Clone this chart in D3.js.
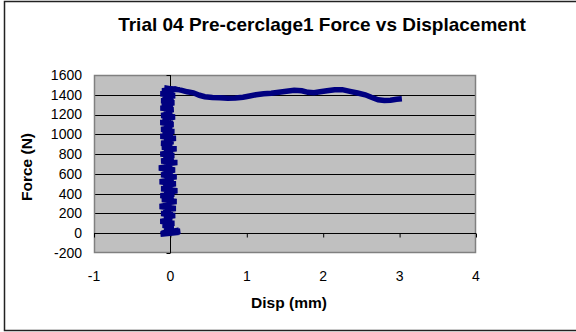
<!DOCTYPE html>
<html><head><meta charset="utf-8">
<script src="https://cdn.jsdelivr.net/npm/d3@7"></script>
<style>body{margin:0;background:#fff}svg{display:block}</style>
</head><body>
<script>
const title = "Trial 04 Pre-cerclage1 Force vs Displacement";
const xTicks = [-1, 0, 1, 2, 3, 4];
const yTicks = [-200, 0, 200, 400, 600, 800, 1000, 1200, 1400, 1600];
// displacement (mm) and force (N)
const disp = [-0.12,0.12,-0.13,0.13,-0.10,0.11,-0.12,0.12,-0.08,
 0.04,-0.10,0.05,-0.13,0.02,-0.08,0.06,-0.12,0.03,-0.09,0.07,-0.14,0.01,-0.07,0.08,-0.11,0.04,-0.13,0.05,-0.08,0.09,
 -0.12,0.03,-0.09,0.07,-0.14,0.04,-0.07,0.08,-0.12,0.03,-0.10,0.06,-0.15,0.02,-0.08,0.09,-0.12,0.04,-0.09,0.05,
 -0.13,0.03,-0.08,0.08,-0.11,0.02,-0.12,0.04,-0.08,0.07,-0.13,0.03,-0.10,0.05,-0.12,0.02,-0.08,0.04,-0.13,0.03,
 -0.10,0.06,-0.12,0.02,-0.08,0.04,-0.13,0.03,-0.11,0.05,-0.12,0.04,-0.10,0.06,-0.13,0.05,-0.11,0.09,-0.08,0.12,0.05,
 0.15,0.22,0.30,0.38,0.45,0.55,0.65,0.75,0.85,0.95,1.02,1.12,1.22,1.32,1.42,1.52,1.62,1.72,1.80,1.88,1.96,2.05,2.15,2.25,2.35,2.45,2.55,2.63,2.72,2.80,2.88,2.96,3.03];
const force = [0,10,-10,20,5,30,-5,15,40,
 60,80,100,120,140,160,180,200,215,235,250,270,290,305,320,340,360,380,395,410,430,
 450,465,480,500,520,540,555,570,590,610,625,640,660,680,700,715,730,750,770,785,
 800,820,840,855,870,890,910,925,940,960,980,1000,1015,1030,1050,1070,1085,1100,1120,1140,
 1160,1175,1190,1210,1230,1250,1265,1280,1300,1320,1340,1355,1370,1390,1410,1425,1440,1455,1465,1450,1460,
 1445,1430,1420,1395,1380,1372,1370,1365,1368,1375,1385,1400,1410,1415,1425,1435,1445,1440,1425,1420,1430,1440,1450,1452,1435,1418,1400,1375,1350,1342,1345,1355,1360];

const W = 576, H = 332;
const svg = d3.select("body").append("svg").attr("width", W).attr("height", H);
svg.append("rect").attr("x", 4.5).attr("y", 1.5).attr("width", 600).attr("height", 329)
  .attr("fill", "#fff").attr("stroke", "#222").attr("stroke-width", 1.5);

const L = 94, R = 476, T = 75, B = 253;
const x = d3.scaleLinear().domain([-1, 4]).range([L, R]);
const y = d3.scaleLinear().domain([-200, 1600]).range([B, T]);

svg.append("rect").attr("x", L).attr("y", T).attr("width", R - L).attr("height", B - T)
  .attr("fill", "#c0c0c0");
// gridlines
svg.append("g").selectAll("line").data(yTicks.slice(1, -1)).join("line")
  .attr("x1", L).attr("x2", R).attr("y1", d => Math.round(y(d)) + 0.5).attr("y2", d => Math.round(y(d)) + 0.5)
  .attr("stroke", "#000").attr("stroke-width", 1);
svg.append("rect").attr("x", L + 0.5).attr("y", T + 0.5).attr("width", R - L - 1).attr("height", B - T - 1)
  .attr("fill", "none").attr("stroke", "#808080").attr("stroke-width", 1.5);

// x axis at y=0
const y0 = Math.round(y(0)) + 0.5;
const xAxis = d3.axisBottom(x).tickValues(xTicks).tickSize(4).tickFormat("");
svg.append("g").attr("transform", `translate(0,${y0})`).call(xAxis)
  .call(g => g.select(".domain").remove())
  .call(g => g.selectAll("line").attr("stroke", "#000"));
svg.append("line").attr("x1", L).attr("x2", R).attr("y1", y0).attr("y2", y0).attr("stroke", "#000");
// y axis at x=0
const x0 = Math.round(x(0)) + 0.5;
const yAxis = d3.axisLeft(y).tickValues(yTicks).tickSize(4).tickFormat("");
svg.append("g").attr("transform", `translate(${x0},0)`).call(yAxis)
  .call(g => g.select(".domain").remove())
  .call(g => g.selectAll("line").attr("stroke", "#000"));
svg.append("line").attr("x1", x0).attr("x2", x0).attr("y1", T).attr("y2", B).attr("stroke", "#000");

// tick labels
const font = "Liberation Sans, Arial, sans-serif";
svg.append("g").selectAll("text").data(yTicks).join("text")
  .attr("x", 82).attr("y", d => y(d)).attr("dy", "0.35em").attr("text-anchor", "end")
  .attr("font-family", font).attr("font-size", 14).text(d => d);
svg.append("g").selectAll("text").data(xTicks).join("text")
  .attr("x", d => x(d)).attr("y", 276).attr("dy", "0.35em").attr("text-anchor", "middle")
  .attr("font-family", font).attr("font-size", 14).text(d => d);

// data line
const pts = disp.map((d, i) => [d, force[i]]);
svg.append("path").datum(pts)
  .attr("d", d3.line().x(d => x(d[0])).y(d => y(d[1])))
  .attr("fill", "none").attr("stroke", "#000080").attr("stroke-width", 5.5)
  .attr("stroke-linejoin", "miter").attr("stroke-miterlimit", 3).attr("stroke-linecap", "butt");

// titles
svg.append("text").attr("x", 322).attr("y", 24).attr("dy", "0.35em").attr("text-anchor", "middle")
  .attr("font-family", font).attr("font-weight", "bold").attr("font-size", 19).text(title);
svg.append("text").attr("x", 289).attr("y", 303).attr("dy", "0.35em").attr("text-anchor", "middle")
  .attr("font-family", font).attr("font-weight", "bold").attr("font-size", 15.5).text("Disp (mm)");
svg.append("text").attr("transform", "translate(27,167) rotate(-90)").attr("dy", "0.35em").attr("text-anchor", "middle")
  .attr("font-family", font).attr("font-weight", "bold").attr("font-size", 15.5).text("Force (N)");
</script>
</body></html>
